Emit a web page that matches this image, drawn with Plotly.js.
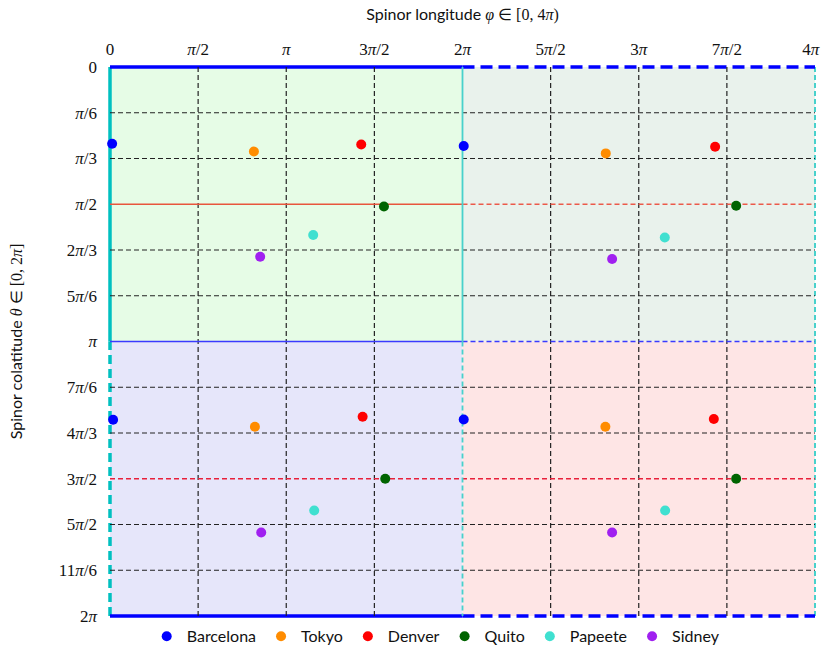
<!DOCTYPE html>
<html>
<head>
<meta charset="utf-8">
<script src="https://cdn.plot.ly/plotly-3.0.1.min.js"></script>
<style>html,body{margin:0;padding:0;background:#fff;}#chart{width:822px;height:648px;}</style>
</head>
<body>
<div id="chart"></div>
<script>
const PI = Math.PI;
// cities
const cities = ['Barcelona', 'Tokyo', 'Denver', 'Quito', 'Papeete', 'Sidney'];
const colors = ['#0000ff', '#ff8c00', '#ff0000', '#006400', '#40e0d0', '#a020f0'];
// longitude φ (rad) per city: [upper-left, upper-right, lower-left, lower-right]
const phiBarcelona = [0.038, 6.305, 0.055, 6.305];
const phiTokyo     = [2.565, 8.837, 2.583, 8.830];
const phiDenver    = [4.478, 10.786, 4.503, 10.763];
const phiQuito     = [4.883, 11.161, 4.906, 11.161];
const phiPapeete   = [3.622, 9.889, 3.640, 9.895];
const phiSidney    = [2.677, 8.950, 2.695, 8.950];
// colatitude θ (rad) per city
const thBarcelona = [0.878, 0.905, 4.037, 4.034];
const thTokyo     = [0.967, 0.989, 4.117, 4.117];
const thDenver    = [0.886, 0.913, 4.003, 4.029];
const thQuito     = [1.596, 1.588, 4.712, 4.712];
const thPapeete   = [1.923, 1.951, 5.075, 5.075];
const thSidney    = [2.172, 2.198, 5.327, 5.327];

const phis = [phiBarcelona, phiTokyo, phiDenver, phiQuito, phiPapeete, phiSidney];
const thetas = [thBarcelona, thTokyo, thDenver, thQuito, thPapeete, thSidney];

// ticks (multiples of π)
const xTickMult = [0, 0.5, 1, 1.5, 2, 2.5, 3, 3.5, 4];
const xTickText = ['0', '<i>π</i>/2', '<i>π</i>', '3<i>π</i>/2', '2<i>π</i>', '5<i>π</i>/2', '3<i>π</i>', '7<i>π</i>/2', '4<i>π</i>\u00a0\u00a0'];
const yTickMult = [0, 1/6, 2/6, 3/6, 4/6, 5/6, 1, 7/6, 8/6, 9/6, 10/6, 11/6, 2];
const yTickText = ['0', '<i>π</i>/6', '<i>π</i>/3', '<i>π</i>/2', '2<i>π</i>/3', '5<i>π</i>/6', '<i>π</i>', '7<i>π</i>/6', '4<i>π</i>/3', '3<i>π</i>/2', '5<i>π</i>/2', '11<i>π</i>/6', '2<i>π</i>'];
const xGridMult = [0.5, 1, 1.5, 2.5, 3, 3.5];
const yGridMult = [1/6, 2/6, 4/6, 5/6, 7/6, 8/6, 10/6, 11/6];

const traces = cities.map((c, i) => ({
  type: 'scatter', mode: 'markers', name: c,
  x: phis[i], y: thetas[i],
  marker: {color: colors[i], size: 10},
  cliponaxis: false
}));

const shapes = [];
// quadrant backgrounds and outer frame: fractions of the plotting area (paper refs, not clipped)
function prect(x0, x1, y0, y1, col) {
  shapes.push({type: 'rect', xref: 'paper', yref: 'paper', x0: x0, x1: x1, y0: y0, y1: y1,
    fillcolor: col, line: {width: 0}, layer: 'below'});
}
function pline(x0, x1, y0, y1, col, w, dash) {
  shapes.push({type: 'line', xref: 'paper', yref: 'paper', x0: x0, x1: x1, y0: y0, y1: y1,
    line: {color: col, width: w, dash: dash || 'solid'}, layer: 'below'});
}
function line(x0, x1, y0, y1, col, w, dash) {
  shapes.push({type: 'line', xref: 'x', yref: 'y', x0: x0, x1: x1, y0: y0, y1: y1,
    line: {color: col, width: w, dash: dash || 'solid'}, layer: 'between'});
}
prect(0, 0.5, 0.5, 1, '#e6fce6');
prect(0.5, 1, 0.5, 1, '#e9f2ec');
prect(0, 0.5, 0, 0.5, '#e6e6fa');
prect(0.5, 1, 0, 0.5, '#fee5e5');
pline(1, 1, 0, 1, '#48d1cc', 2, '5px,3px');
pline(0, 0, 0.5, 1, '#00c0c0', 3.5);
pline(0, 0, 0, 0.5, '#00c0c0', 3.5, '9px,5px');
pline(0, 0.5, 1, 1, '#0000ff', 3.5);
pline(0.5, 1, 1, 1, '#0000ff', 3.5, '12px,6px');
pline(0, 0.5, 0, 0, '#0000ff', 3.5);
pline(0.5, 1, 0, 0, '#0000ff', 3.5, '12px,6px');

xGridMult.forEach(m => line(m*PI, m*PI, 0, 2*PI, '#222222', 1.2, '5px,3px'));
yGridMult.forEach(m => line(0, 4*PI, m*PI, m*PI, '#222222', 1.2, '5px,3px'));
// interior boundaries (data coordinates)
line(0, 2*PI, PI/2, PI/2, '#e8553d', 1.5);
line(2*PI, 4*PI, PI/2, PI/2, '#ec5a4a', 1.5, '5px,3px');
line(0, 4*PI, 1.5*PI, 1.5*PI, '#e8203a', 1.5, '5px,3px');
line(0, 2*PI, PI, PI, '#3a3aff', 1.5);
line(2*PI, 4*PI, PI, PI, '#3a3aff', 1.5, '5px,3px');
line(2*PI, 2*PI, 0, PI, '#48d1cc', 1.8);
line(2*PI, 2*PI, PI, 2*PI, '#48d1cc', 1.8, '5px,3px');

const serif = 'Liberation Serif, DejaVu Serif, serif';
const sans = 'Lato, Open Sans, sans-serif';

const layout = {
  width: 822, height: 648,
  margin: {l: 110, r: 7, t: 67, b: 32, pad: 0, autoexpand: false},
  paper_bgcolor: '#ffffff', plot_bgcolor: '#ffffff',
  showlegend: true,
  legend: {orientation: 'h', x: 0.462, xanchor: 'center', y: -0.037, yanchor: 'middle',
    font: {family: sans, size: 16, color: '#111'}, itemwidth: 30, tracegroupgap: 0,
    bgcolor: 'rgba(0,0,0,0)'},
  xaxis: {
    side: 'top', range: [0, 4*PI], showgrid: false, zeroline: false, showline: false,
    tickvals: xTickMult.map(m => m*PI), ticktext: xTickText, ticks: '',
    ticklabelstandoff: 8, ticklabeloverflow: 'allow',
    tickfont: {family: serif, size: 17, color: '#111'},
    title: {text: 'Spinor longitude <span style="font-family:Liberation Serif"><i>φ</i> ∈ [0, 4<i>π</i>)</span>',
      font: {family: sans, size: 16, color: '#111'}, standoff: 14}
  },
  yaxis: {
    range: [2*PI, 0], showgrid: false, zeroline: false, showline: false,
    tickvals: yTickMult.map(m => m*PI), ticktext: yTickText, ticks: '',
    ticklabelstandoff: 12, ticklabeloverflow: 'allow',
    tickfont: {family: serif, size: 17, color: '#111'},
    title: {text: 'Spinor colatitude <span style="font-family:Liberation Serif"><i>θ</i> ∈ [0, 2<i>π</i>]</span>',
      font: {family: sans, size: 16, color: '#111'}, standoff: 32}
  },
  shapes: shapes
};

Plotly.newPlot('chart', traces, layout, {displayModeBar: false, staticPlot: true});
</script>
</body>
</html>
